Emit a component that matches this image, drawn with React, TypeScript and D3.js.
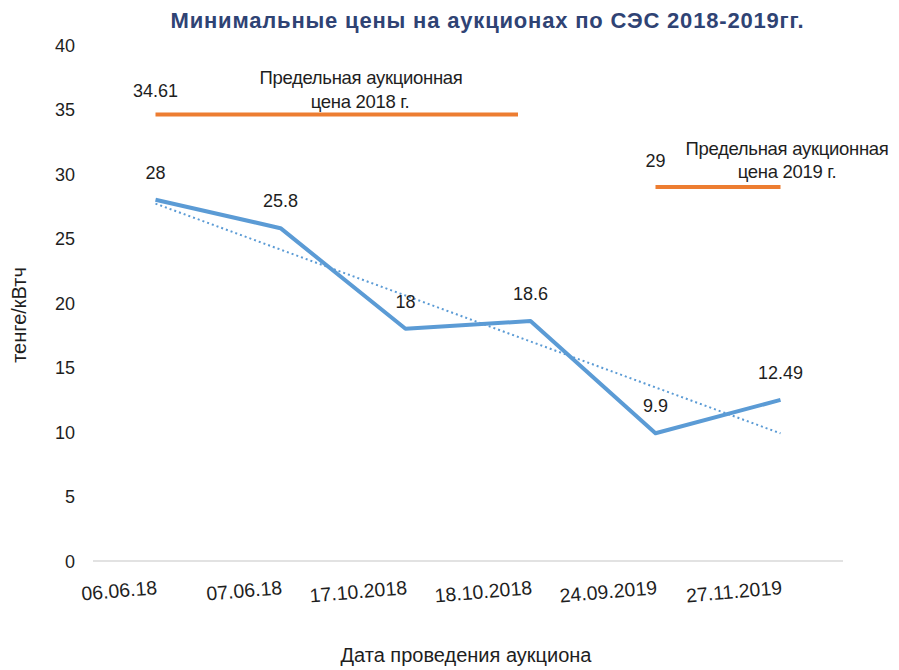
import React from "react";
import * as d3 from "d3";

const categories = ["06.06.18", "07.06.18", "17.10.2018", "18.10.2018", "24.09.2019", "27.11.2019"];
const prices = [28, 25.8, 18, 18.6, 9.9, 12.49];
const priceLabels = ["28", "25.8", "18", "18.6", "9.9", "12.49"];
const yTicks = [0, 5, 10, 15, 20, 25, 30, 35, 40];
const cap2018 = { value: 34.61, label: "34.61", from: 0, toFrac: 2.9, text: ["Предельная аукционная", "цена 2018 г."] };
const cap2019 = { value: 29, label: "29", from: 4, to: 5, text: ["Предельная аукционная", "цена 2019 г."] };

const W = 899, H = 670;
const M = { left: 93, right: 843, top: 45, bottom: 561 };
const FONT = "'Liberation Sans', Arial, sans-serif";

export default function App() {
  const x = d3.scaleBand<string>().domain(categories).range([M.left, M.right]);
  const cx = (i: number) => (x(categories[i]) as number) + x.bandwidth() / 2;
  const y = d3.scaleLinear().domain([0, 40]).range([M.bottom, M.top]);

  const line = d3.line<number>().x((_, i) => cx(i)).y((d) => y(d));

  // linear trend
  const n = prices.length;
  const mx = d3.mean(d3.range(n)) as number;
  const my = d3.mean(prices) as number;
  let sxy = 0, sxx = 0;
  prices.forEach((v, i) => { sxy += (i - mx) * (v - my); sxx += (i - mx) * (i - mx); });
  const slope = sxy / sxx;
  const b = my - slope * mx;
  const trend = d3.range(n).map((i) => b + slope * i);

  const x2018a = cx(cap2018.from);
  const x2018b = cx(0) + x.bandwidth() * cap2018.toFrac;
  const x2019a = cx(cap2019.from);
  const x2019b = cx(cap2019.to);

  const txt = "#1e1e1e";

  return (
    <svg width={W} height={H} style={{ position: "absolute", left: 0, top: 0, background: "#fff" }} fontFamily={FONT}>
      <text x={487} y={28} textAnchor="middle" fontSize={22} fontWeight="bold" fill="#2f4374" textLength={633} lengthAdjust="spacing">
        Минимальные цены на аукционах по СЭС 2018-2019гг.
      </text>

      {yTicks.map((t) => (
        <text key={t} x={75} y={y(t) + 6.5} textAnchor="end" fontSize={18} fill={txt}>{t}</text>
      ))}
      <line x1={M.left} x2={M.right} y1={y(0)} y2={y(0)} stroke="#d9d9d9" strokeWidth={1.5} />

      {categories.map((c, i) => (
        <text key={c} transform={`translate(${cx(i) + 2},${594}) rotate(-5)`} textAnchor="end" fontSize={19.5} fill={txt}>{c}</text>
      ))}

      <text transform={`translate(26,${315}) rotate(-90)`} textAnchor="middle" fontSize={20} fill={txt}>тенге/кВтч</text>
      <text x={466} y={662} textAnchor="middle" fontSize={20} fill={txt}>Дата проведения аукциона</text>

      {/* cap lines */}
      <line x1={x2018a} x2={x2018b} y1={y(cap2018.value)} y2={y(cap2018.value)} stroke="#ed7d31" strokeWidth={4} />
      <text x={x2018a} y={y(cap2018.value) - 18} textAnchor="middle" fontSize={18} fill={txt}>{cap2018.label}</text>
      <text x={361} y={84} textAnchor="middle" fontSize={18.5} fill={txt} letterSpacing={-0.3}>{cap2018.text[0]}</text>
      <text x={360} y={108} textAnchor="middle" fontSize={18.5} fill={txt} letterSpacing={-0.3}>{cap2018.text[1]}</text>

      <line x1={x2019a} x2={x2019b} y1={y(cap2019.value)} y2={y(cap2019.value)} stroke="#ed7d31" strokeWidth={4} />
      <text x={x2019a} y={y(cap2019.value) - 20} textAnchor="middle" fontSize={18} fill={txt}>{cap2019.label}</text>
      <text x={787} y={155} textAnchor="middle" fontSize={18.5} fill={txt} letterSpacing={-0.3}>{cap2019.text[0]}</text>
      <text x={787} y={178} textAnchor="middle" fontSize={18.5} fill={txt} letterSpacing={-0.3}>{cap2019.text[1]}</text>

      {/* trend */}
      <path d={line(trend) as string} fill="none" stroke="#5b9bd5" strokeWidth={2} strokeDasharray="2,3" />
      {/* series */}
      <path d={line(prices) as string} fill="none" stroke="#5b9bd5" strokeWidth={4} strokeLinejoin="round" />

      {prices.map((v, i) => (
        <text key={i} x={cx(i)} y={y(v) - 21} textAnchor="middle" fontSize={18} fill={txt}>{priceLabels[i]}</text>
      ))}
    </svg>
  );
}
